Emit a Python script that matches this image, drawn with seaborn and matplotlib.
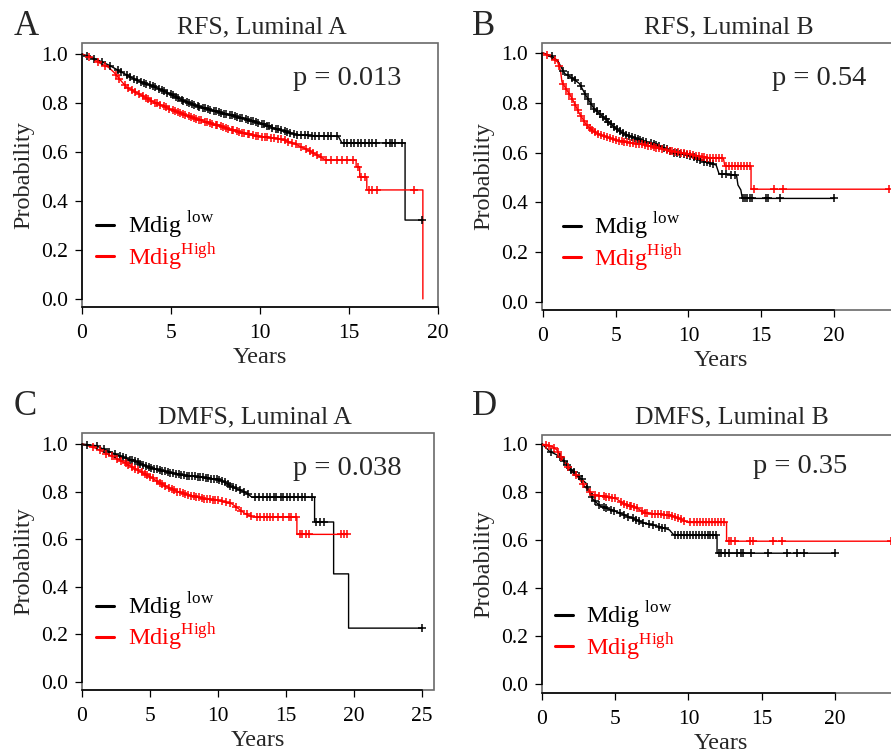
"""
Kaplan-Meier curves, Mdig low vs high, RFS / DMFS in Luminal A and B.
"""

import numpy as np
import matplotlib
matplotlib.use("Agg")
import matplotlib.pyplot as plt
import seaborn as sns

# ---- panel A: RFS, Luminal A ----
a_low_t = [0, 0.5, 1, 1.5, 2, 2.5, 3, 3.5, 4, 4.5, 5, 5.5, 6, 6.6, 7.7, 8, 9, 10,
           11, 12, 12.5, 14.4, 14.6, 18.15, 18.15, 19.15]
a_low_s = [1.0, 0.987, 0.972, 0.955, 0.935, 0.915, 0.895, 0.882, 0.868, 0.852, 0.835,
           0.817, 0.80, 0.785, 0.763, 0.757, 0.738, 0.718, 0.692, 0.672, 0.668,
           0.664, 0.637, 0.637, 0.322, 0.322]
a_high_t = [0, 0.5, 1, 1.5, 1.8, 2.2, 2.5, 3, 3.5, 4, 4.5, 5, 6, 7, 8, 9, 10, 11,
            11.5, 12, 12.9, 13.7, 15.4, 15.4, 15.6, 15.6, 16.0, 16.0, 19.15, 19.15]
a_high_s = [1.0, 0.985, 0.963, 0.945, 0.925, 0.89, 0.865, 0.845, 0.825, 0.805, 0.79,
            0.773, 0.745, 0.722, 0.70, 0.677, 0.663, 0.655, 0.645, 0.632, 0.60,
            0.567, 0.567, 0.54, 0.54, 0.498, 0.498, 0.445, 0.445, 0.0]
a_low_cens = [0.3, 0.7, 1.1, 1.6, 2.0, 2.2, 2.5, 2.7, 2.9, 3.1, 3.3, 3.5, 3.6, 3.8,
              4.0, 4.1, 4.3, 4.5, 4.6, 4.8, 5.0, 5.1, 5.3, 5.4, 5.6, 5.7, 5.9, 6.0,
              6.2, 6.3, 6.5, 6.6, 6.8, 6.9, 7.1, 7.2, 7.4, 7.5, 7.7, 7.8, 8.0, 8.1,
              8.3, 8.4, 8.6, 8.7, 8.9, 9.0, 9.2, 9.3, 9.5, 9.6, 9.8, 9.9, 10.1, 10.2,
              10.4, 10.5, 10.7, 10.9, 11.0, 11.2, 11.4, 11.5, 11.7, 11.9, 12.1, 12.3,
              12.5, 12.7, 12.9, 13.1, 13.3, 13.6, 13.8, 14.0, 14.3, 14.7, 14.9, 15.1,
              15.3, 15.5, 15.7, 15.9, 16.1, 16.3, 16.5, 17.1, 17.3, 17.4, 17.6, 18.0,
              19.1]
a_high_cens = [0.4, 0.9, 1.3, 1.9, 2.1, 2.4, 2.6, 2.8, 3.0, 3.2, 3.4, 3.6, 3.7, 3.9,
               4.1, 4.2, 4.4, 4.6, 4.7, 4.9, 5.1, 5.2, 5.4, 5.5, 5.7, 5.8, 6.0, 6.1,
               6.3, 6.4, 6.6, 6.7, 6.9, 7.0, 7.2, 7.3, 7.5, 7.6, 7.8, 7.9, 8.1, 8.2,
               8.4, 8.5, 8.7, 8.8, 9.0, 9.1, 9.3, 9.4, 9.6, 9.8, 9.9, 10.1, 10.3,
               10.4, 10.6, 10.8, 11.0, 11.2, 11.4, 11.6, 11.8, 12.0, 12.3, 12.6, 12.8,
               13.0, 13.2, 13.4, 13.7, 14.0, 14.3, 14.6, 14.9, 15.2, 15.5, 15.7, 15.9,
               16.1, 16.3, 16.6, 18.65]

# ---- panel B: RFS, Luminal B ----
b_low_t = [0, 0.5, 1.0, 1.3, 1.5, 2, 2.5, 3, 3.5, 4, 4.5, 5, 5.5, 6, 7, 8, 9, 10,
           11, 11.9, 12.1, 13.3, 13.4, 13.6, 13.7, 20.0]
b_low_s = [1.0, 0.99, 0.97, 0.937, 0.917, 0.90, 0.877, 0.824, 0.777, 0.75, 0.724,
           0.697, 0.677, 0.666, 0.644, 0.627, 0.60, 0.59, 0.566, 0.55, 0.515,
           0.51, 0.47, 0.45, 0.416, 0.416]
b_high_t = [0, 0.5, 1.0, 1.2, 1.3, 1.5, 2, 2.5, 3, 3.5, 4, 5, 6, 7, 8, 9, 10, 11,
            12.4, 12.5, 14.3, 14.3, 23.8]
b_high_s = [1.0, 0.985, 0.964, 0.93, 0.884, 0.864, 0.817, 0.757, 0.71, 0.684, 0.67,
            0.65, 0.64, 0.631, 0.617, 0.604, 0.594, 0.581, 0.577, 0.546, 0.546,
            0.453, 0.453]
b_low_cens = [0.6, 1.4, 1.7, 2.0, 2.2, 2.6, 2.9, 3.1, 3.3, 3.5, 3.7, 3.9, 4.1, 4.3,
              4.5, 4.7, 4.9, 5.1, 5.3, 5.5, 5.7, 5.9, 6.1, 6.3, 6.5, 6.7, 6.9, 7.1,
              7.4, 7.6, 7.8, 8.0, 8.3, 8.5, 8.7, 9.0, 9.2, 9.4, 9.7, 9.9, 10.1,
              10.4, 10.6, 10.8, 11.1, 11.3, 11.5, 11.7, 12.3, 12.6, 12.9, 13.2,
              13.75, 13.9, 14.05, 14.2, 14.4, 15.3, 15.5, 16.3, 20.0]
b_high_cens = [0.3, 0.8, 1.1, 1.4, 1.6, 1.8, 2.0, 2.2, 2.4, 2.6, 2.8, 3.0, 3.2, 3.4,
               3.6, 3.8, 4.0, 4.2, 4.4, 4.6, 4.8, 5.0, 5.2, 5.4, 5.6, 5.8, 6.0, 6.2,
               6.4, 6.6, 6.8, 7.0, 7.2, 7.4, 7.6, 7.8, 8.0, 8.2, 8.5, 8.7, 8.9, 9.1,
               9.3, 9.5, 9.7, 9.9, 10.1, 10.3, 10.5, 10.7, 10.9, 11.1, 11.3, 11.5,
               11.7, 11.9, 12.1, 12.3, 12.6, 12.8, 13.0, 13.2, 13.4, 13.6, 13.8,
               14.0, 14.2, 14.5, 15.9, 16.5, 23.8]

# ---- panel C: DMFS, Luminal A ----
c_low_t = [0, 1, 2, 3, 4, 5, 6, 7, 8, 9, 10, 10.5, 11, 12, 12.5, 17.1, 17.1, 18.5,
           18.5, 19.6, 19.6, 25.0]
c_low_s = [1.0, 0.993, 0.968, 0.944, 0.925, 0.90, 0.886, 0.873, 0.865, 0.859, 0.85,
           0.84, 0.82, 0.797, 0.776, 0.776, 0.672, 0.672, 0.454, 0.454, 0.226,
           0.226]
c_high_t = [0, 1, 2, 3, 4, 5, 6, 7, 8, 9, 10, 11, 11.5, 12, 12.5, 15.8, 15.8, 19.45]
c_high_s = [1.0, 0.982, 0.954, 0.925, 0.893, 0.862, 0.827, 0.80, 0.783, 0.77, 0.763,
            0.749, 0.728, 0.707, 0.693, 0.693, 0.62, 0.62]
c_low_cens = [0.4, 1.1, 1.6, 2.0, 2.4, 2.8, 3.0, 3.2, 3.5, 3.7, 3.9, 4.1, 4.3, 4.5,
              4.7, 4.9, 5.1, 5.3, 5.5, 5.7, 5.9, 6.1, 6.3, 6.5, 6.7, 6.9, 7.1, 7.3,
              7.5, 7.7, 7.9, 8.1, 8.3, 8.5, 8.7, 8.9, 9.1, 9.3, 9.5, 9.7, 9.9,
              10.1, 10.3, 10.5, 10.7, 10.9, 11.1, 11.3, 11.6, 11.9, 12.2, 12.7,
              13.0, 13.3, 13.6, 13.8, 14.1, 14.3, 14.6, 14.8, 15.1, 15.3, 15.6,
              15.9, 16.2, 16.4, 16.9, 17.2, 17.5, 17.8, 25.0]
c_high_cens = [0.8, 1.3, 1.8, 2.2, 2.6, 2.9, 3.2, 3.4, 3.7, 3.9, 4.1, 4.4, 4.6, 4.8,
               5.0, 5.2, 5.5, 5.7, 5.9, 6.1, 6.4, 6.6, 6.8, 7.0, 7.2, 7.4, 7.6, 7.8,
               8.0, 8.2, 8.4, 8.6, 8.8, 9.0, 9.2, 9.4, 9.6, 9.8, 10.0, 10.3, 10.6,
               10.9, 11.3, 11.7, 12.1, 12.4, 12.85, 13.1, 13.35, 13.6, 13.8, 14.05,
               14.4, 14.8, 15.2, 15.4, 15.7, 16.0, 16.2, 16.5, 16.7, 19.05, 19.25,
               19.45]

# ---- panel D: DMFS, Luminal B ----
d_low_t = [0, 0.3, 0.5, 1, 1.5, 2, 2.5, 3, 3.3, 3.5, 4, 5, 6, 7, 8, 8.7, 9.0,
           11.95, 11.95, 20.0]
d_low_s = [1.0, 0.983, 0.97, 0.955, 0.928, 0.893, 0.865, 0.837, 0.79, 0.768, 0.74,
           0.72, 0.695, 0.67, 0.656, 0.642, 0.621, 0.621, 0.545, 0.545]
d_high_t = [0, 0.7, 1, 1.5, 2, 2.5, 3, 3.5, 5, 5.5, 6.5, 7, 8.5, 9, 10, 12.6, 12.6,
            23.8]
d_high_s = [1.0, 0.99, 0.976, 0.928, 0.886, 0.858, 0.817, 0.789, 0.775, 0.754,
            0.733, 0.712, 0.705, 0.698, 0.673, 0.673, 0.595, 0.595]
d_low_cens = [0.6, 1.2, 1.5, 1.7, 2.0, 2.2, 2.5, 2.7, 3.1, 3.4, 3.6, 3.9, 4.2, 4.4,
              4.7, 4.9, 5.3, 5.6, 5.9, 6.2, 6.4, 6.6, 6.9, 7.3, 7.6, 8.0, 8.2, 8.4,
              9.1, 9.3, 9.5, 9.7, 9.9, 10.1, 10.3, 10.5, 10.7, 10.9, 11.1, 11.3,
              11.5, 11.7, 11.85, 12.07, 12.25, 12.5, 12.8, 13.3, 13.6, 13.7, 14.3,
              15.4, 16.7, 17.4, 17.9, 20.0]
d_high_cens = [0.3, 0.5, 0.8, 1.1, 1.3, 1.8, 2.3, 2.8, 3.3, 3.6, 3.9, 4.2, 4.4, 4.6,
               4.8, 5.0, 5.4, 5.6, 5.8, 6.0, 6.1, 6.3, 6.5, 6.8, 7.0, 7.2, 7.5, 7.7,
               7.9, 8.1, 8.3, 8.5, 8.7, 8.9, 9.1, 9.3, 9.5, 9.7, 10.1, 10.4, 10.6,
               10.8, 11.0, 11.2, 11.4, 11.6, 11.8, 12.0, 12.2, 12.4, 12.8, 12.9,
               13.2, 14.2, 14.4, 15.8, 16.4, 23.8]

panels = [
    dict(letter="A", title="RFS, Luminal A", p="p = 0.013",
         low=(a_low_t, a_low_s, a_low_cens), high=(a_high_t, a_high_s, a_high_cens),
         box=(82, 43, 438, 307), xlim=(0, 19.94), ylim=(-0.033, 1.045),
         xticks=[0, 5, 10, 15, 20], xbound=(0, 20),
         title_xy=(262, 33), letter_xy=(14, 35), p_xy=(293, 85), leg=(0.04, 0.25)),
    dict(letter="B", title="RFS, Luminal B", p="p = 0.54",
         low=(b_low_t, b_low_s, b_low_cens), high=(b_high_t, b_high_s, b_high_cens),
         box=(542, 43, 900, 310), xlim=(-0.07, 24.54), ylim=(-0.032, 1.04),
         xticks=[0, 5, 10, 15, 20], xbound=(0, 20),
         title_xy=(729, 33), letter_xy=(472, 35), p_xy=(772, 85), leg=(0.058, 0.255)),
    dict(letter="C", title="DMFS, Luminal A", p="p = 0.038",
         low=(c_low_t, c_low_s, c_low_cens), high=(c_high_t, c_high_s, c_high_cens),
         box=(82, 433, 434, 690), xlim=(0, 25.88), ylim=(-0.034, 1.046),
         xticks=[0, 5, 10, 15, 20, 25], xbound=(0, 25),
         title_xy=(255, 423), letter_xy=(14, 415), p_xy=(293, 475), leg=(0.04, 0.265)),
    dict(letter="D", title="DMFS, Luminal B", p="p = 0.35",
         low=(d_low_t, d_low_s, d_low_cens), high=(d_high_t, d_high_s, d_high_cens),
         box=(542, 435, 900, 693), xlim=(0, 24.44), ylim=(-0.0375, 1.0375),
         xticks=[0, 5, 10, 15, 20], xbound=(0, 20),
         title_xy=(732, 423), letter_xy=(472, 415), p_xy=(753, 473), leg=(0.036, 0.24)),
]

sns.set_style("ticks")
serif = ["Liberation Serif", "DejaVu Serif"]
plt.rcParams["font.family"] = serif
plt.rcParams["mathtext.fontset"] = "custom"
plt.rcParams["mathtext.rm"] = "Liberation Serif"

W, H = 891, 754
fig = plt.figure(figsize=(W / 100, H / 100), dpi=100)
fig.patch.set_facecolor("white")

groups = [("low", "black", "Mdig $^{\\rm low}$"), ("high", "red", "Mdig$^{\\rm High}$")]

for pnl in panels:
    l, t, r, b = pnl["box"]
    ax = fig.add_axes([l / W, 1 - b / H, (r - l) / W, (b - t) / H])
    ax.set_facecolor("white")
    ax.patch.set_edgecolor("#6a6a6a")
    ax.patch.set_linewidth(1.2)

    for key, col, lab in groups:
        times, surv, cens = pnl[key]
        sns.lineplot(x=times, y=surv, sort=False, estimator=None, color=col,
                     lw=1.0, ax=ax, label=lab)
        cy = np.interp(cens, times, surv)
        sns.scatterplot(x=cens, y=cy, marker="+", s=36, color=col,
                        linewidth=1.1, ax=ax, legend=False, zorder=3)

    ax.set_xlim(*pnl["xlim"])
    ax.set_ylim(*pnl["ylim"])
    ax.set_xticks(pnl["xticks"])
    ax.set_xticklabels([str(v) for v in pnl["xticks"]], fontfamily=serif)
    ax.set_yticks([0.0, 0.2, 0.4, 0.6, 0.8, 1.0])
    ax.set_yticklabels(["0.0", "0.2", "0.4", "0.6", "0.8", "1.0"], fontfamily=serif)
    for s in ["top", "right"]:
        ax.spines[s].set_visible(False)
    ax.spines["bottom"].set_bounds(*pnl["xbound"])
    ax.spines["left"].set_bounds(0, 1)
    for s in ["bottom", "left"]:
        ax.spines[s].set_color("black")
        ax.spines[s].set_linewidth(1.1)
    ax.tick_params(direction="out", length=5, width=0.9, colors="black",
                   labelsize=15.5)
    ax.tick_params(axis="x", pad=7)
    ax.tick_params(axis="y", pad=5)
    ax.set_xlabel("Years", fontsize=17.5, labelpad=3)
    ax.set_ylabel("Probability", fontsize=17.5, labelpad=5)

    leg = ax.legend(loc="center left", bbox_to_anchor=pnl["leg"], frameon=False,
                    fontsize=17.5, handlelength=0.75, handletextpad=0.55,
                    labelspacing=0.0, borderpad=0, borderaxespad=0,
                    labelcolor="linecolor")
    for h in leg.get_lines():
        h.set_linewidth(2.2)

    fig.text(pnl["title_xy"][0] / W, 1 - pnl["title_xy"][1] / H, pnl["title"],
             ha="center", va="baseline", fontsize=18.5)
    fig.text(pnl["letter_xy"][0] / W, 1 - pnl["letter_xy"][1] / H, pnl["letter"],
             ha="left", va="baseline", fontsize=25)
    fig.text(pnl["p_xy"][0] / W, 1 - pnl["p_xy"][1] / H, pnl["p"],
             ha="left", va="baseline", fontsize=20.5)

fig.savefig("out.png", dpi=100)
plt.close(fig)
